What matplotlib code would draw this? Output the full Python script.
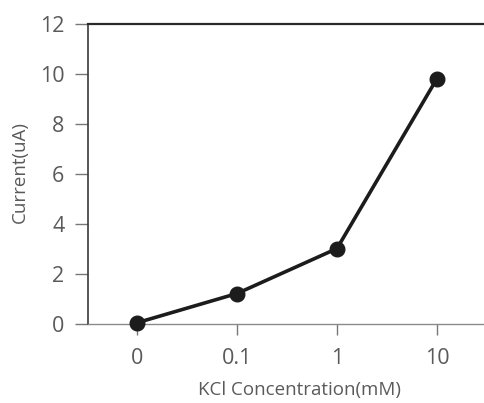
import matplotlib
matplotlib.use('Agg')
import matplotlib.pyplot as plt

# data
concentrations = ['0', '0.1', '1', '10']
current = [0.05, 1.22, 3.02, 9.82]
y_ticks = [0, 2, 4, 6, 8, 10, 12]

plt.rcParams['font.family'] = ['Open Sans', 'DejaVu Sans']
gray = '#5a5a5a'

fig = plt.figure(figsize=(4.84, 4.03), dpi=100)
ax = fig.add_axes([0.1818, 0.196, 0.8182, 0.7444])

x = range(len(concentrations))
ax.plot(x, current, color='#1c1c1c', lw=2.6, marker='o', markersize=10.5,
        solid_capstyle='round', zorder=3, clip_on=False)

ax.set_xlim(-0.49, 3.47)
ax.set_ylim(0, 12)
ax.set_xticks(list(x))
ax.set_xticklabels(concentrations)
ax.set_yticks(y_ticks)

ax.spines['right'].set_visible(False)
ax.spines['top'].set_color('#2a2a2a')
ax.spines['top'].set_linewidth(1.6)
ax.spines['left'].set_color('#3a3a3a')
ax.spines['left'].set_linewidth(1.2)
ax.spines['bottom'].set_color('#8a8a8a')
ax.spines['bottom'].set_linewidth(1.0)

ax.tick_params(axis='both', colors='#777777', labelcolor=gray, labelsize=15.5,
               width=1.0)
ax.tick_params(axis='x', length=8, pad=9.5)
ax.tick_params(axis='y', length=9.5, pad=7.5)

ax.set_xlabel('KCl Concentration(mM)', color=gray, fontsize=13.5)
ax.set_ylabel('Current(uA)', color=gray, fontsize=13.5)
ax.xaxis.set_label_coords(0.533, -0.19)
ax.yaxis.set_label_coords(-0.149, 0.507)

fig.savefig('out.png', dpi=100)
